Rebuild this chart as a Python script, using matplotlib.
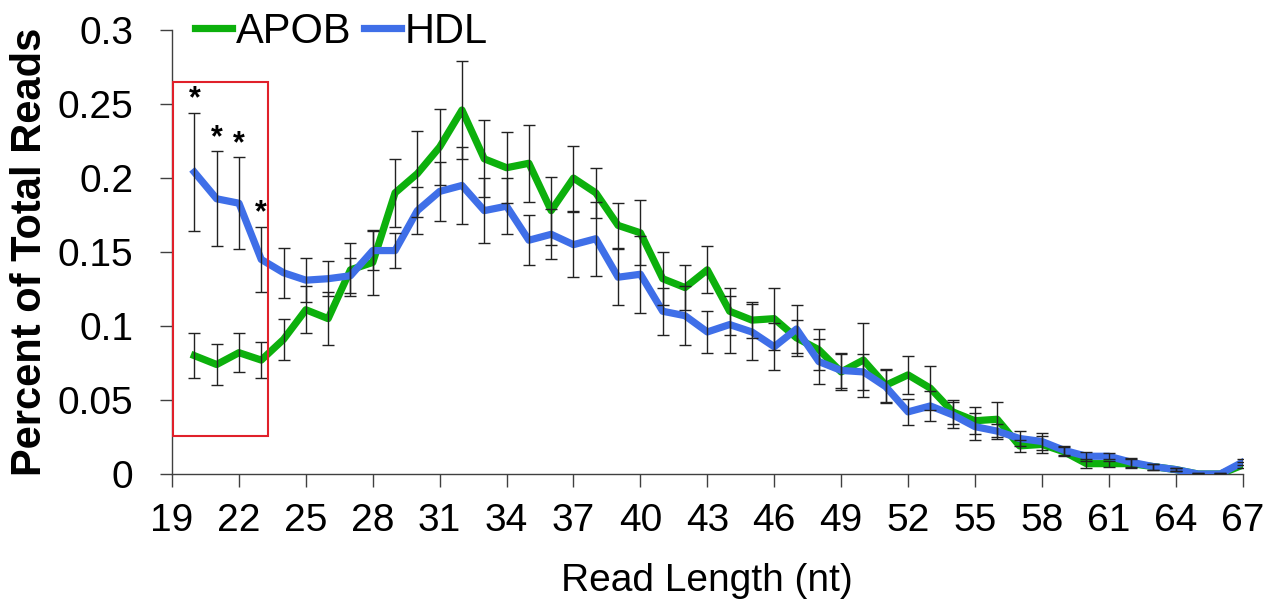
import numpy as np
import matplotlib.pyplot as plt
from matplotlib.patches import Rectangle

plt.rcParams['font.family'] = ['Liberation Sans', 'DejaVu Sans']

read_len = list(range(20, 68))

apob = [0.080, 0.074, 0.082, 0.077, 0.091, 0.111, 0.105, 0.138, 0.143, 0.190,
        0.203, 0.221, 0.246, 0.213, 0.207, 0.210, 0.178, 0.200, 0.190, 0.168,
        0.163, 0.132, 0.126, 0.138, 0.110, 0.104, 0.105, 0.092, 0.084, 0.069,
        0.077, 0.060, 0.067, 0.058, 0.042, 0.036, 0.037, 0.019, 0.020, 0.015,
        0.007, 0.007, 0.007, 0.005, 0.003, 0.000, 0.000, 0.006]
apob_err = [0.015, 0.014, 0.013, 0.012, 0.014, 0.016, 0.018, 0.018, 0.022, 0.023,
            0.029, 0.026, 0.033, 0.026, 0.024, 0.026, 0.023, 0.022, 0.017, 0.015,
            0.022, 0.018, 0.015, 0.016, 0.016, 0.012, 0.021, 0.012, 0.014, 0.012,
            0.025, 0.011, 0.013, 0.015, 0.008, 0.009, 0.012, 0.004, 0.006, 0.003,
            0.003, 0.002, 0.003, 0.002, 0.001, 0.001, 0.001, 0.002]

hdl = [0.204, 0.186, 0.183, 0.145, 0.136, 0.131, 0.132, 0.134, 0.151, 0.151,
       0.178, 0.191, 0.195, 0.178, 0.181, 0.158, 0.162, 0.155, 0.159, 0.133,
       0.135, 0.110, 0.107, 0.096, 0.101, 0.096, 0.086, 0.098, 0.076, 0.070,
       0.069, 0.059, 0.042, 0.046, 0.040, 0.032, 0.029, 0.024, 0.022, 0.016,
       0.012, 0.012, 0.008, 0.005, 0.003, 0.000, 0.000, 0.008]
hdl_err = [0.040, 0.032, 0.031, 0.022, 0.017, 0.015, 0.012, 0.012, 0.013, 0.012,
           0.016, 0.020, 0.026, 0.022, 0.019, 0.017, 0.017, 0.022, 0.025, 0.019,
           0.026, 0.016, 0.020, 0.014, 0.019, 0.019, 0.016, 0.016, 0.015, 0.012,
           0.012, 0.011, 0.009, 0.010, 0.009, 0.009, 0.005, 0.005, 0.006, 0.003,
           0.003, 0.002, 0.003, 0.002, 0.001, 0.001, 0.001, 0.002]

# lengths that differ significantly
sig_len = [20, 21, 22, 23]

green = '#0cb00c'
blue = '#3f6fe8'

fig = plt.figure(figsize=(12.81, 6.02), dpi=100)
ax = fig.add_axes([0.1343, 0.2126, 0.8357, 0.7374])

ax.plot(read_len, apob, color=green, lw=5.2, label='APOB', zorder=3)
ax.plot(read_len, hdl, color=blue, lw=5.2, label='HDL', zorder=3)
ax.errorbar(read_len, apob, yerr=apob_err, fmt='none', ecolor='#222222',
            elinewidth=1, capsize=4, capthick=1, zorder=4)
ax.errorbar(read_len, hdl, yerr=hdl_err, fmt='none', ecolor='#222222',
            elinewidth=1, capsize=4, capthick=1, zorder=4)

for x in sig_len:
    i = read_len.index(x)
    ax.text(x, hdl[i] + hdl_err[i] - 0.001, '*', ha='center', va='bottom',
            fontsize=22, fontweight='bold')

ax.add_patch(Rectangle((19.05, 0.026), 4.25, 0.239, fill=False,
                       edgecolor='#e0202a', lw=1.5, zorder=5))

ax.set_xlim(19, 67)
ax.set_ylim(0, 0.3)
ax.set_xticks(range(19, 68, 3))
ax.set_yticks([0, 0.05, 0.1, 0.15, 0.2, 0.25, 0.3])
ax.set_yticklabels(['0', '0.05', '0.1', '0.15', '0.2', '0.25', '0.3'])
ax.tick_params(axis='both', labelsize=28, length=9, width=1, color='#404040',
               direction='out')
ax.tick_params(axis='y', pad=19)
ax.tick_params(axis='x', pad=12)
for s in ['top', 'right']:
    ax.spines[s].set_visible(False)
for s in ['left', 'bottom']:
    ax.spines[s].set_color('#404040')
    ax.spines[s].set_linewidth(1)

ax.set_xlabel('Read Length (nt)', fontsize=28)
ax.set_ylabel('Percent of Total Reads', fontsize=30, fontweight='bold')
ax.xaxis.set_label_coords(0.5, -0.2)
ax.yaxis.set_label_coords(-0.114, 0.5)

ax.legend(loc='center left', bbox_to_anchor=(0.152, 0.947),
          bbox_transform=fig.transFigure, ncol=2, frameon=False,
          fontsize=30, handlelength=0.9, handletextpad=0.08,
          columnspacing=0.3, borderpad=0, borderaxespad=0)

fig.savefig('out.png', dpi=100)
